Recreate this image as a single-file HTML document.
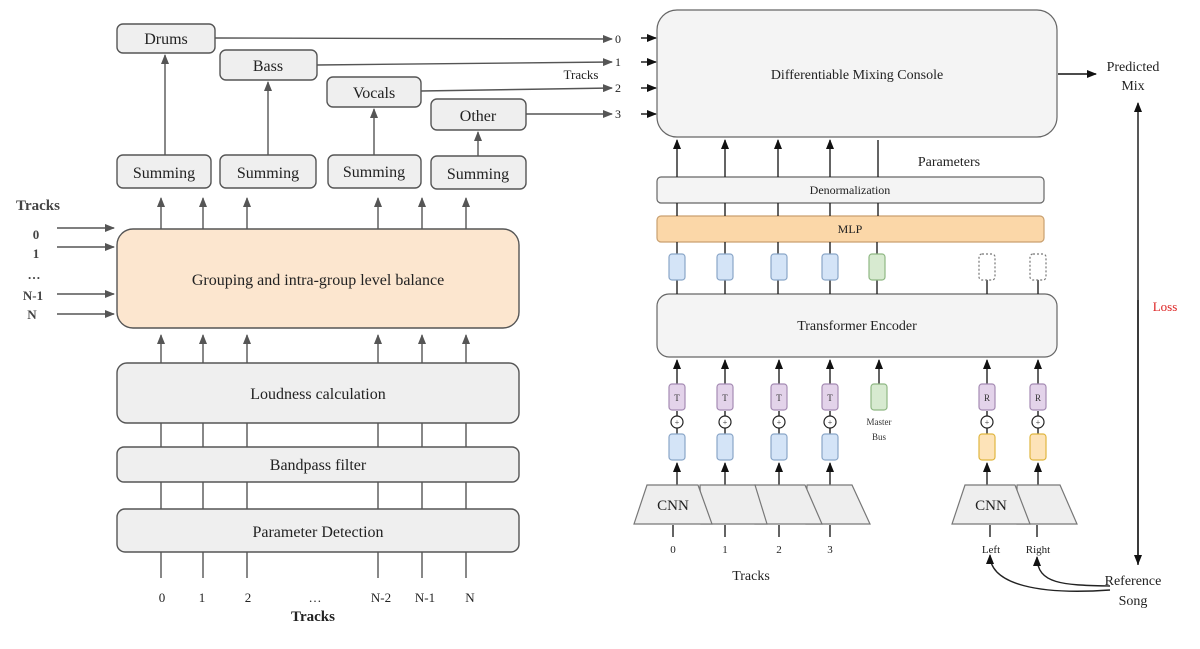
<!DOCTYPE html>
<html><head><meta charset="utf-8"><style>
html,body{margin:0;padding:0;background:#fff;}
svg{display:block;font-family:"Liberation Serif",serif;}
</style></head><body>
<svg width="1200" height="649" viewBox="0 0 1200 649" xmlns="http://www.w3.org/2000/svg">
<defs>
<marker id="ag" markerWidth="10" markerHeight="8" refX="9" refY="4" orient="auto" markerUnits="userSpaceOnUse"><path d="M0,0 L10,4 L0,8 z" fill="#555"/></marker>
<marker id="ab" markerWidth="10" markerHeight="8" refX="9" refY="4" orient="auto" markerUnits="userSpaceOnUse"><path d="M0,0 L10,4 L0,8 z" fill="#111"/></marker>
</defs>
<g stroke="#555" stroke-width="1.4" fill="#efefef">
<!-- left column boxes -->
<rect x="117" y="24" width="98" height="29" rx="6"/>
<rect x="220" y="50" width="97" height="30" rx="6"/>
<rect x="327" y="77" width="94" height="30" rx="6"/>
<rect x="431" y="99" width="95" height="31" rx="6"/>
<rect x="117" y="155" width="94" height="33" rx="6"/>
<rect x="220" y="155" width="96" height="33" rx="6"/>
<rect x="328" y="155" width="93" height="33" rx="6"/>
<rect x="431" y="156" width="95" height="33" rx="6"/>
<rect x="117" y="229" width="402" height="99" rx="16" fill="#fce6cf"/>
<rect x="117" y="363" width="402" height="60" rx="10"/>
<rect x="117" y="447" width="402" height="35" rx="7"/>
<rect x="117" y="509" width="402" height="43" rx="8"/>
</g>
<g stroke="#555" stroke-width="1.4" fill="none">
<line x1="165" y1="155" x2="165" y2="55" marker-end="url(#ag)"/>
<line x1="268" y1="155" x2="268" y2="82" marker-end="url(#ag)"/>
<line x1="374" y1="155" x2="374" y2="109" marker-end="url(#ag)"/>
<line x1="478" y1="156" x2="478" y2="132" marker-end="url(#ag)"/>
<line x1="215" y1="38" x2="612" y2="39" marker-end="url(#ag)"/>
<line x1="317" y1="65" x2="612" y2="62" marker-end="url(#ag)"/>
<line x1="421" y1="91" x2="612" y2="88" marker-end="url(#ag)"/>
<line x1="526" y1="114" x2="612" y2="114" marker-end="url(#ag)"/>
<line x1="57" y1="228" x2="114" y2="228" marker-end="url(#ag)"/>
<line x1="57" y1="247" x2="114" y2="247" marker-end="url(#ag)"/>
<line x1="57" y1="294" x2="114" y2="294" marker-end="url(#ag)"/>
<line x1="57" y1="314" x2="114" y2="314" marker-end="url(#ag)"/>
<g id="cols">
<line x1="161" y1="229" x2="161" y2="198" marker-end="url(#ag)"/>
<line x1="203" y1="229" x2="203" y2="198" marker-end="url(#ag)"/>
<line x1="247" y1="229" x2="247" y2="198" marker-end="url(#ag)"/>
<line x1="378" y1="229" x2="378" y2="198" marker-end="url(#ag)"/>
<line x1="422" y1="229" x2="422" y2="198" marker-end="url(#ag)"/>
<line x1="466" y1="229" x2="466" y2="198" marker-end="url(#ag)"/>
<line x1="161" y1="363" x2="161" y2="335" marker-end="url(#ag)"/>
<line x1="203" y1="363" x2="203" y2="335" marker-end="url(#ag)"/>
<line x1="247" y1="363" x2="247" y2="335" marker-end="url(#ag)"/>
<line x1="378" y1="363" x2="378" y2="335" marker-end="url(#ag)"/>
<line x1="422" y1="363" x2="422" y2="335" marker-end="url(#ag)"/>
<line x1="466" y1="363" x2="466" y2="335" marker-end="url(#ag)"/>
</g>
<path d="M161 423V447M203 423V447M247 423V447M378 423V447M422 423V447M466 423V447"/>
<path d="M161 482V509M203 482V509M247 482V509M378 482V509M422 482V509M466 482V509"/>
<path d="M161 552V578M203 552V578M247 552V578M378 552V578M422 552V578M466 552V578"/>
</g>
<g font-size="16" fill="#222" text-anchor="middle">
<text x="166" y="44">Drums</text>
<text x="268" y="71">Bass</text>
<text x="374" y="98">Vocals</text>
<text x="478" y="121">Other</text>
<text x="164" y="178">Summing</text>
<text x="268" y="178">Summing</text>
<text x="374" y="177">Summing</text>
<text x="478" y="179">Summing</text>
<text x="318" y="285">Grouping and intra-group level balance</text>
<text x="318" y="399">Loudness calculation</text>
<text x="318" y="470">Bandpass filter</text>
<text x="318" y="537">Parameter Detection</text>
</g>
<g font-size="13" fill="#222" text-anchor="middle">
<text x="162" y="602">0</text><text x="202" y="602">1</text><text x="248" y="602">2</text><text x="315" y="602">…</text>
<text x="381" y="602">N-2</text><text x="425" y="602">N-1</text><text x="470" y="602">N</text>
<text x="313" y="621" font-weight="bold" font-size="15">Tracks</text>
<text x="38" y="210" font-weight="bold" font-size="15" fill="#444">Tracks</text>
<g font-weight="bold" fill="#444"><text x="36" y="239">0</text><text x="36" y="258">1</text><text x="34" y="279">…</text><text x="33" y="300">N-1</text><text x="32" y="319">N</text></g>
<text x="618" y="43" font-size="12">0</text><text x="618" y="66" font-size="12">1</text><text x="618" y="92" font-size="12">2</text><text x="618" y="118" font-size="12">3</text>
<text x="581" y="79" font-size="13">Tracks</text>
</g>
<!-- right -->
<g stroke="#111" stroke-width="1.4" fill="none">
<line x1="641" y1="38" x2="656" y2="38" marker-end="url(#ab)"/>
<line x1="641" y1="62" x2="656" y2="62" marker-end="url(#ab)"/>
<line x1="641" y1="88" x2="656" y2="88" marker-end="url(#ab)"/>
<line x1="641" y1="114" x2="656" y2="114" marker-end="url(#ab)"/>
<line x1="1058" y1="74" x2="1096" y2="74" marker-end="url(#ab)"/>
<line x1="1138" y1="565" x2="1138" y2="103" marker-end="url(#ab)"/>
<line x1="1138" y1="300" x2="1138" y2="564" marker-end="url(#ab)"/>
</g>
<g stroke="#666" stroke-width="1.2" fill="#f4f4f4">
<rect x="657" y="10" width="400" height="127" rx="20"/>
<rect x="657" y="177" width="387" height="26" rx="4"/>
<rect x="657" y="216" width="387" height="26" rx="4" fill="#fbd7a8" stroke="#c9a070"/>
<rect x="657" y="294" width="400" height="63" rx="12"/>
</g>
<g stroke="#222" stroke-width="1.4" fill="none">
<line x1="677" y1="177" x2="677" y2="140" marker-end="url(#ab)"/>
<line x1="725" y1="177" x2="725" y2="140" marker-end="url(#ab)"/>
<line x1="778" y1="177" x2="778" y2="140" marker-end="url(#ab)"/>
<line x1="830" y1="177" x2="830" y2="140" marker-end="url(#ab)"/>
<line x1="878" y1="177" x2="878" y2="140"/>
<path d="M677 203V216M725 203V216M778 203V216M830 203V216M878 203V216"/>
<path d="M677 242V294M725 242V294M778 242V294M830 242V294M877 242V294M987 260V294M1038 260V294"/>
<line x1="677" y1="385" x2="677" y2="360" marker-end="url(#ab)"/>
<line x1="725" y1="385" x2="725" y2="360" marker-end="url(#ab)"/>
<line x1="779" y1="385" x2="779" y2="360" marker-end="url(#ab)"/>
<line x1="830" y1="385" x2="830" y2="360" marker-end="url(#ab)"/>
<line x1="879" y1="385" x2="879" y2="360" marker-end="url(#ab)"/>
<line x1="987" y1="385" x2="987" y2="360" marker-end="url(#ab)"/>
<line x1="1038" y1="385" x2="1038" y2="360" marker-end="url(#ab)"/>
<path d="M677 411V434M725 411V434M779 411V434M830 411V434M987 411V434M1038 411V434"/>
<line x1="677" y1="485" x2="677" y2="463" marker-end="url(#ab)"/>
<line x1="725" y1="485" x2="725" y2="463" marker-end="url(#ab)"/>
<line x1="779" y1="485" x2="779" y2="463" marker-end="url(#ab)"/>
<line x1="830" y1="485" x2="830" y2="463" marker-end="url(#ab)"/>
<line x1="987" y1="485" x2="987" y2="463" marker-end="url(#ab)"/>
<line x1="1038" y1="485" x2="1038" y2="463" marker-end="url(#ab)"/>
<path d="M673 525V537M725 525V537M779 525V537M830 525V537M990 525V537M1037 525V537"/>
<path d="M1110 590 C1040 595 990 585 990 555" marker-end="url(#ab)"/>
<path d="M1110 586 C1065 585 1037 585 1037 557" marker-end="url(#ab)"/>
</g>
<g stroke-width="1.2">
<g fill="#d4e4f7" stroke="#8aa6c8">
<rect x="669" y="254" width="16" height="26" rx="3"/><rect x="717" y="254" width="16" height="26" rx="3"/>
<rect x="771" y="254" width="16" height="26" rx="3"/><rect x="822" y="254" width="16" height="26" rx="3"/>
<rect x="669" y="434" width="16" height="26" rx="3"/><rect x="717" y="434" width="16" height="26" rx="3"/>
<rect x="771" y="434" width="16" height="26" rx="3"/><rect x="822" y="434" width="16" height="26" rx="3"/>
</g>
<rect x="869" y="254" width="16" height="26" rx="3" fill="#d7ead0" stroke="#8fb884"/>
<rect x="871" y="384" width="16" height="26" rx="3" fill="#d7ead0" stroke="#8fb884"/>
<rect x="979" y="254" width="16" height="26" rx="3" fill="#fff" stroke="#777" stroke-dasharray="2,2"/>
<rect x="1030" y="254" width="16" height="26" rx="3" fill="#fff" stroke="#777" stroke-dasharray="2,2"/>
<g fill="#e3d3ea" stroke="#a58bb3">
<rect x="669" y="384" width="16" height="26" rx="3"/><rect x="717" y="384" width="16" height="26" rx="3"/>
<rect x="771" y="384" width="16" height="26" rx="3"/><rect x="822" y="384" width="16" height="26" rx="3"/>
<rect x="979" y="384" width="16" height="26" rx="3"/><rect x="1030" y="384" width="16" height="26" rx="3"/>
</g>
<g fill="#fde3b8" stroke="#e0b640">
<rect x="979" y="434" width="16" height="26" rx="3"/><rect x="1030" y="434" width="16" height="26" rx="3"/>
</g>
<g fill="#fff" stroke="#222">
<circle cx="677" cy="422" r="6"/><circle cx="725" cy="422" r="6"/><circle cx="779" cy="422" r="6"/>
<circle cx="830" cy="422" r="6"/><circle cx="987" cy="422" r="6"/><circle cx="1038" cy="422" r="6"/>
</g>
<g fill="#eeeeee" stroke="#777">
<path d="M807 485 L852 485 L870 524 L806 524 Z"/>
<path d="M755 485 L805 485 L822 524 L755 524 Z"/>
<path d="M700 485 L755 485 L767 524 L701 524 Z"/>
<path d="M647 485 L698 485 L712 524 L634 524 Z"/>
<path d="M1017 485 L1060 485 L1077 524 L1017 524 Z"/>
<path d="M965 485 L1015 485 L1030 524 L952 524 Z"/>
</g>
</g>
<g font-size="9" fill="#333" text-anchor="middle">
<text x="677" y="401">T</text><text x="725" y="401">T</text><text x="779" y="401">T</text><text x="830" y="401">T</text>
<text x="987" y="401">R</text><text x="1038" y="401">R</text>
<text x="677" y="425" font-size="8">+</text><text x="725" y="425" font-size="8">+</text><text x="779" y="425" font-size="8">+</text>
<text x="830" y="425" font-size="8">+</text><text x="987" y="425" font-size="8">+</text><text x="1038" y="425" font-size="8">+</text>
<text x="879" y="425">Master</text><text x="879" y="440">Bus</text>
</g>
<g font-size="14" fill="#222" text-anchor="middle">
<text x="857" y="79">Differentiable Mixing Console</text>
<text x="949" y="166">Parameters</text>
<text x="850" y="194" font-size="12">Denormalization</text>
<text x="850" y="233" font-size="12">MLP</text>
<text x="857" y="330">Transformer Encoder</text>
<text x="673" y="510" font-size="15">CNN</text>
<text x="991" y="510" font-size="15">CNN</text>
<text x="673" y="553" font-size="11">0</text><text x="725" y="553" font-size="11">1</text><text x="779" y="553" font-size="11">2</text><text x="830" y="553" font-size="11">3</text>
<text x="991" y="553" font-size="11">Left</text><text x="1038" y="553" font-size="11">Right</text>
<text x="751" y="580">Tracks</text>
<text x="1133" y="71">Predicted</text><text x="1133" y="90">Mix</text>
<text x="1165" y="311" fill="#d22" font-size="13">Loss</text>
<text x="1133" y="585">Reference</text><text x="1133" y="605">Song</text>
</g>
</svg>
</body></html>
